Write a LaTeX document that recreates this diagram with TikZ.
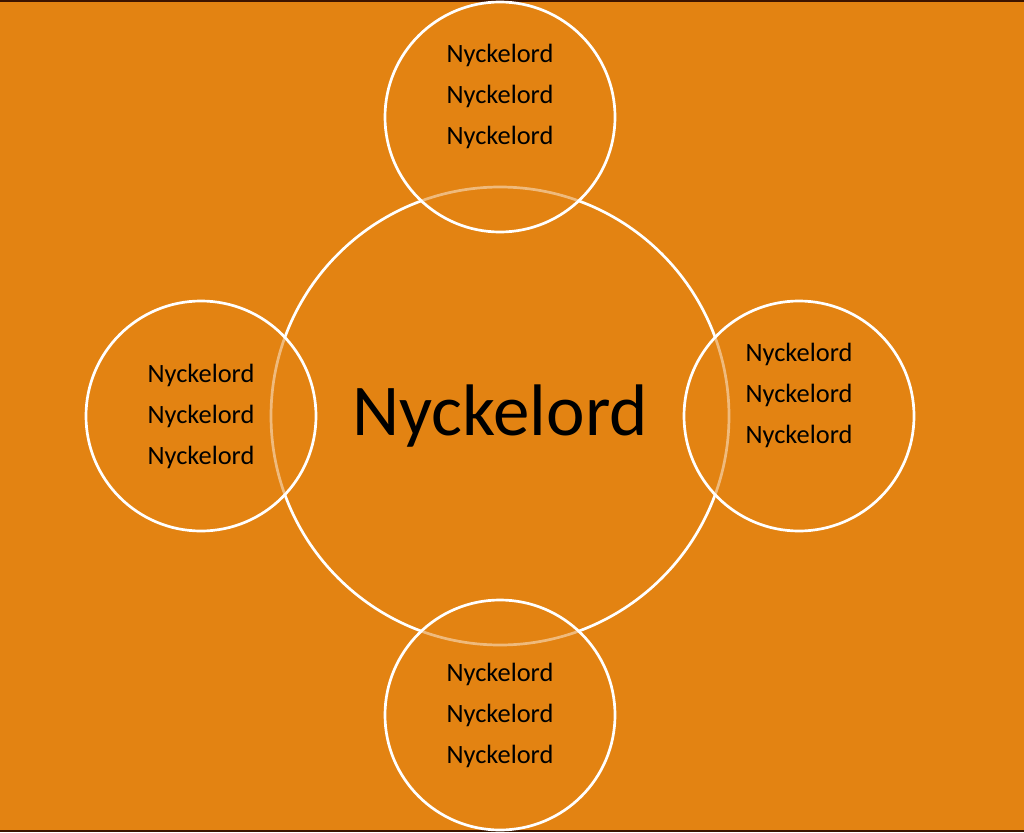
\documentclass[tikz,border=0pt]{standalone}
\usepackage{fontspec}
\setmainfont{Carlito}
\usetikzlibrary{positioning}
\definecolor{slide}{RGB}{227,131,18}
\definecolor{edge}{RGB}{60,20,0}

\begin{document}
\begin{tikzpicture}[x=1pt,y=1pt,node distance=299pt]
  \tikzstyle{hub}=[circle,draw=white,line width=2.7pt,minimum size=458pt,inner sep=0pt,
    font=\fontsize{73}{80}\selectfont]
  \tikzstyle{keyword}=[circle,draw=white,line width=2.7pt,minimum size=230pt,inner sep=0pt,
    fill=slide,fill opacity=0.55,draw opacity=1]
  \tikzstyle{kwtext}=[align=center,font=\fontsize{26.4}{41}\selectfont]

  % background
  \fill[edge] (0,0) rectangle (1024,-832);
  \fill[slide] (0,-2) rectangle (1024,-830);

  \node[hub] (hub) at (500,-416) {Nyckelord};

  \node[keyword] (top)    [above of=hub] {};
  \node[keyword] (left)   [left of=hub]  {};
  \node[keyword] (right)  [right of=hub] {};
  \node[keyword] (bottom) [below of=hub] {};

  \node[kwtext,yshift=21pt] (toptxt)    at (top)    {Nyckelord\\Nyckelord\\Nyckelord};
  \node[kwtext]             (lefttxt)   at (left)   {Nyckelord\\Nyckelord\\Nyckelord};
  \node[kwtext,yshift=21pt] (righttxt)  at (right)  {Nyckelord\\Nyckelord\\Nyckelord};
  \node[kwtext]             (bottomtxt) at (bottom) {Nyckelord\\Nyckelord\\Nyckelord};
\end{tikzpicture}
\end{document}
